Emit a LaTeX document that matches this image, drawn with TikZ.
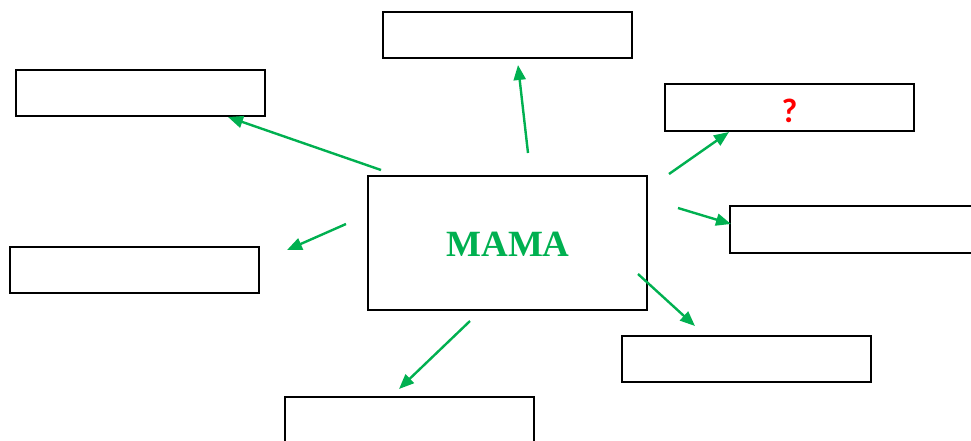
\documentclass[tikz,border=0pt]{standalone}
\usepackage{fontspec}
\setmainfont{Liberation Serif}
\newfontfamily\qfont{Carlito}
\usetikzlibrary{arrows.meta}
\definecolor{mgreen}{HTML}{00B050}
\definecolor{qred}{HTML}{FF0000}
\begin{document}
\begin{tikzpicture}[x=1pt,y=-1pt,
  box/.style={draw=black,line width=2pt,inner sep=0pt,minimum width=249pt,minimum height=46pt},
  conn/.style={draw=mgreen,line width=2.4pt,-{Triangle[length=15pt,width=12pt]}}]
\useasboundingbox (0,0) rectangle (971,440);
\clip (0,0) rectangle (971,440);
\node[box] (top) at (507.5,35) {};
\node[box] (tl) at (140.5,93) {};
\node[box,minimum height=47pt] (q) at (789.5,107.5) {};
\node[font=\qfont\bfseries\fontsize{34}{36}\selectfont,text=qred,inner sep=0pt,anchor=base] (qm) at (789.5,122) {?};
\node[box,minimum width=250pt,minimum height=47pt] (r) at (855,229.5) {};
\node[box] (l) at (134,270) {};
\node[box] (br) at (746,359) {};
\node[box,minimum height=63pt] (b) at (409.5,428.5) {};
\node[box,minimum width=279pt,minimum height=134pt] (c) at (507.5,243) {};
\node[font=\bfseries\fontsize{37}{40}\selectfont,text=mgreen,inner sep=0pt,anchor=base] (mama) at (508,256) {MAMA};
\coordinate (s1) at (381,170); \coordinate (e1) at (228,117);
\coordinate (s2) at (528,153); \coordinate (e2) at (518,65);
\coordinate (s3) at (669,174); \coordinate (e3) at (729,132);
\coordinate (s4) at (678,208); \coordinate (e4) at (731,224);
\coordinate (s5) at (346,224); \coordinate (e5) at (287,250);
\coordinate (s6) at (638,274); \coordinate (e6) at (695,326);
\coordinate (s7) at (470,321); \coordinate (e7) at (399,389);
\draw[conn] (s1) -- (e1);
\draw[conn] (s2) -- (e2);
\draw[conn] (s3) -- (e3);
\draw[conn] (s4) -- (e4);
\draw[conn] (s5) -- (e5);
\draw[conn] (s6) -- (e6);
\draw[conn] (s7) -- (e7);
\end{tikzpicture}
\end{document}
